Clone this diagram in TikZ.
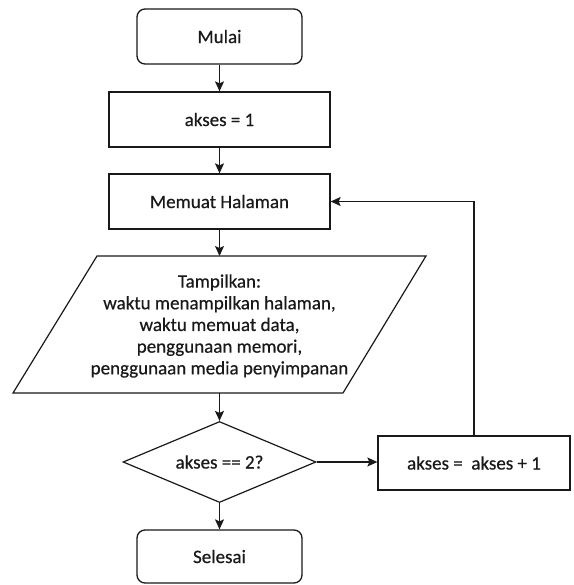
\documentclass[tikz,border=0pt]{standalone}
\usepackage{fontspec}
\setmainfont{Carlito}
\newfontfamily\lblfont{Carlito}[FakeBold=0.5]
\usetikzlibrary{shapes.geometric,arrows.meta}
\begin{document}
\begin{tikzpicture}[x=1pt,y=-1pt,
  every node/.style={font=\lblfont\fontsize{19}{21.7}\selectfont, text=black!90},
  box/.style={draw=black!90, line width=1.3pt, minimum width=221pt, minimum height=55pt, inner sep=0pt},
  term/.style={box, rounded corners=8pt, minimum width=165pt},
  dec/.style={draw=black!90, diamond, line width=1.2pt, minimum width=193pt, minimum height=81pt, inner sep=0pt, aspect=2.38},
  arr/.style={draw=black!90, -{Stealth[length=10pt,width=9pt,inset=2pt]}, line width=1.3pt},
]
\useasboundingbox (0,0) rectangle (573,585);

\node[term] (mulai) at (219.5,36.5) {Mulai};
\node[box] (akses1) at (219.5,119.5) {akses = 1};
\node[box] (memuat) at (219.5,201.5) {Memuat Halaman};

\coordinate (ptop) at (219.5,256);
\coordinate (pbot) at (219.5,393);
\draw[draw=black!90, line width=1.2pt] (97,256) -- (426,256) -- (343,393) -- (13,393) -- cycle;
\node[align=center] (para) at (219.5,326) {Tampilkan:\\waktu menampilkan halaman,\\waktu memuat data,\\penggunaan memori,\\penggunaan media penyimpanan};

\node[dec] (dec) at (219.5,462) {akses == 2?};
\node[box, minimum width=192pt, minimum height=54pt] (inc) at (474,463) {akses = \ akses + 1};
\node[term, minimum height=53pt] (selesai) at (219.5,556.5) {Selesai};

\draw[arr] (mulai) -- (akses1);
\draw[arr] (akses1) -- (memuat);
\draw[arr] (memuat) -- (ptop);
\draw[arr] (pbot) -- (dec.north);
\draw[arr] (dec.south) -- (selesai);
\draw[arr] (dec.east) -- (dec.east -| inc.west);
\draw[arr] (inc.north) |- (memuat.east);
\end{tikzpicture}
\end{document}
